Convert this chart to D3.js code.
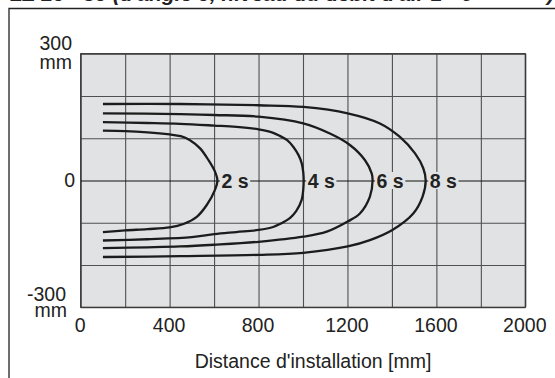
<!DOCTYPE html>
<html>
<head>
<meta charset="utf-8">
<script src="https://cdn.jsdelivr.net/npm/d3@7"></script>
<style>
  html, body { margin: 0; padding: 0; background: #fff; }
  svg { display: block; }
  text { font-family: "Liberation Sans", Arial, Helvetica, sans-serif; fill: #222; }
</style>
</head>
<body>
<svg id="chart" width="555" height="378"></svg>
<script>
// ---- data ----
const xTicks = [0, 400, 800, 1200, 1600, 2000];
const yTicks = [300, 0, -300];
const yUnit = "mm";
const xTitle = "Distance d'installation [mm]";
const titleText = "LZ 20 - 30 (d'angle 0, niveau du débit d'air 1 - 6";
const seriesLabels = ["2 s", "4 s", "6 s", "8 s"];

const curve2s = [[100,118],[200,117],[300,114],[400,109],[450,105],[490,96],[537,76],[575,48],[604,21],[615,0],[604,-22],[567,-58],[522,-86],[462,-103],[400,-111],[300,-115],[200,-118],[100,-122]];
const curve4s = [[100,138],[300,136],[447,134],[600,130],[700,127],[800,121],[860,114],[897,105],[930,95],[956,80],[980,60],[994,41],[1001,20],[1003,0],[1001,-22],[994,-46],[970,-72],[941,-89],[900,-102],[866,-110],[800,-117],[700,-122],[601,-127],[500,-134],[300,-139],[100,-142]];
const curve6s = [[100,159],[447,157],[600,155],[800,151],[1001,135],[1121,111],[1211,84],[1279,48],[1309,17],[1313,0],[1301,-38],[1256,-78],[1201,-97],[1107,-121],[1001,-133],[800,-145],[600,-152],[447,-156],[300,-158],[100,-160]];
const curve8s = [[100,181],[447,181],[800,178],[1001,174],[1201,159],[1346,135],[1436,103],[1504,64],[1541,29],[1552,0],[1538,-38],[1496,-78],[1402,-117],[1301,-141],[1201,-156],[1001,-171],[800,-176],[447,-179],[100,-181]];
const curves = [curve2s, curve4s, curve6s, curve8s];

// ---- layout ----
const svg = d3.select("#chart");
const L = 80.7, R = 525.3, T = 53.7, B = 307.3;
const x = d3.scaleLinear().domain([0, 2000]).range([L, R]);
const y = d3.scaleLinear().domain([-300, 300]).range([B, T]);

// frame (cut by the image edges)
svg.append("path")
  .attr("d", "M9,390V8.5H570")
  .attr("fill", "none").attr("stroke", "#222").attr("stroke-width", 1.3);

// title, mostly outside the picture (as in the reference)
const title = svg.append("text").attr("x", 10).attr("y", 0.8)
  .attr("font-size", 21).attr("font-weight", "bold").attr("font-style", "italic");
title.append("tspan").text(titleText);
title.append("tspan").attr("x", 547).text(")");

// plot background
svg.append("rect").attr("x", L).attr("y", T).attr("width", R - L).attr("height", B - T)
  .attr("fill", "#e1e2e3");

// grid via axes
const gx = svg.append("g").attr("transform", `translate(0,${B})`)
  .call(d3.axisBottom(x).tickValues(d3.range(0, 2001, 200)).tickSize(-(B - T)).tickFormat(""));
const gy = svg.append("g").attr("transform", `translate(${L},0)`)
  .call(d3.axisLeft(y).tickValues(d3.range(-300, 301, 100)).tickSize(-(R - L)).tickFormat(""));
[gx, gy].forEach(g => {
  g.select(".domain").remove();
  g.selectAll("line").attr("stroke", "#505050").attr("stroke-width", 1.1);
});
gy.selectAll(".tick").filter(d => d === 0).select("line").attr("stroke", "#111").attr("stroke-width", 1);

svg.append("rect").attr("x", L).attr("y", T).attr("width", R - L).attr("height", B - T)
  .attr("fill", "none").attr("stroke", "#333").attr("stroke-width", 1.2);

// x tick labels
const ax = svg.append("g").attr("transform", `translate(-1,${B})`)
  .call(d3.axisBottom(x).tickValues(xTicks).tickSize(0).tickPadding(11).tickFormat(d3.format("d")));
ax.select(".domain").remove();
ax.selectAll("text").attr("font-size", 19.5).attr("font-family", null).attr("fill", "#222");

// y tick labels (value + unit as one two-line text)
const yl = svg.append("g").attr("font-size", 19.5).attr("text-anchor", "end");
yTicks.forEach(v => {
  if (v === 0) {
    yl.append("text").attr("x", 75).attr("y", y(v)).attr("dy", "0.33em").text(v);
  } else {
    const top = v > 0 ? y(v) - 4 : y(v) - 6;
    const xr = v > 0 ? 72 : 66;
    const t = yl.append("text").attr("x", xr).attr("y", top);
    t.append("tspan").attr("x", xr).text(v);
    t.append("tspan").attr("x", xr + (v > 0 ? 0 : 1)).attr("dy", v > 0 ? 19.5 : 15.5).text(yUnit);
  }
});

// x title
svg.append("text").attr("x", 313).attr("y", 368).attr("text-anchor", "middle")
  .attr("font-size", 19.5).text(xTitle);

// curves
const line = d3.line().x(d => x(d[0])).y(d => y(d[1])).curve(d3.curveCatmullRom.alpha(0.5));
svg.append("g").selectAll("path").data(curves).join("path")
  .attr("d", line).attr("fill", "none").attr("stroke", "#1c1c1c").attr("stroke-width", 2.3)
  .attr("stroke-linejoin", "round");

// labels at the tips
curves.forEach((c, i) => {
  const tip = c.reduce((a, b) => (b[0] > a[0] ? b : a));
  const g = svg.append("g");
  const t = g.append("text").attr("x", x(tip[0]) + 4).attr("y", y(0)).attr("dy", "0.36em")
    .attr("font-size", 19.5).attr("font-weight", "bold").text(seriesLabels[i]);
  const bb = t.node().getBBox();
  g.insert("rect", "text").attr("x", bb.x - 1.5).attr("y", y(0) - 8.5)
    .attr("width", bb.width + 3).attr("height", 17).attr("fill", "#e1e2e3");
});
</script>
</body>
</html>
